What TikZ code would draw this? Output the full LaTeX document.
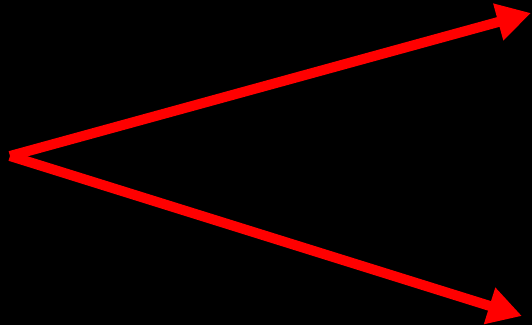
\documentclass[tikz,border=0pt]{standalone}
\usetikzlibrary{arrows.meta}
\begin{document}
\begin{tikzpicture}[x=1pt,y=-1pt,
  redarrow/.style={draw=red,fill=red,line width=10pt,-{Triangle[length=34pt,width=36pt]}}]
\fill[black] (0,0) rectangle (532,325);
\useasboundingbox (0,0) rectangle (532,325);
\coordinate (o) at (10,156);
\coordinate (a) at (531,13);
\coordinate (b) at (522,316);
\draw[redarrow] (o) -- (a);
\draw[redarrow] (o) -- (b);
\end{tikzpicture}
\end{document}
